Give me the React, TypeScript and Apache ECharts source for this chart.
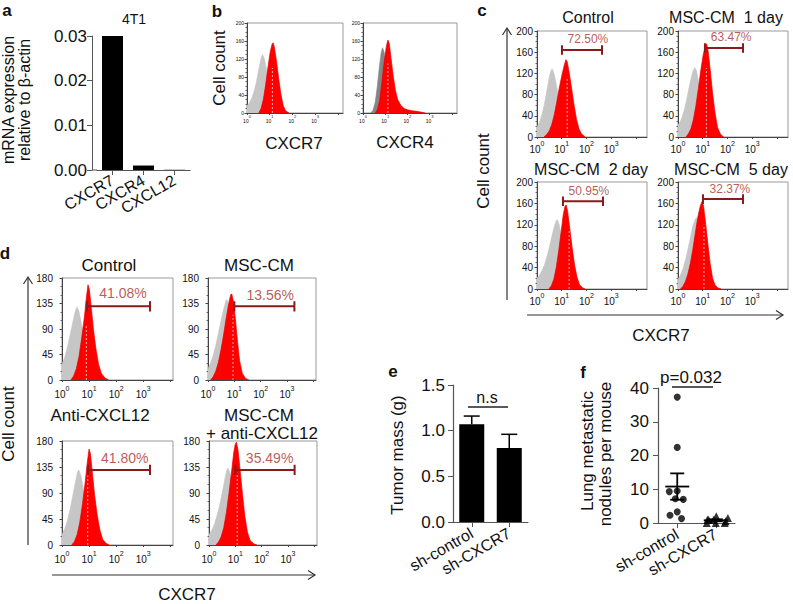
import React, { useEffect, useRef } from 'react';
import * as echarts from 'echarts';

// ---------------- data: panel a ----------------
const aCategories = ['CXCR7', 'CXCR4', 'CXCL12'];
const aValues = [0.03, 0.001, 0.00005];

// ---------------- data: panel b histograms [log10 intensity, cell count] ----------------
const bCXCR7Gray = [[0,16],[0.1,22],[0.2,32],[0.3,46],[0.4,66],[0.5,92],[0.6,118],[0.68,130],[0.75,124],[0.85,100],[0.95,70],[1.05,42],[1.15,22],[1.28,8],[1.45,0]];
const bCXCR7Red = [[0.52,0],[0.62,10],[0.72,30],[0.82,62],[0.92,100],[1.02,135],[1.1,152],[1.15,156],[1.2,148],[1.3,115],[1.4,75],[1.5,40],[1.6,16],[1.7,5],[1.85,0]];
const bCXCR4Gray = [[0.35,0],[0.45,6],[0.55,24],[0.65,62],[0.75,108],[0.82,135],[0.88,145],[0.95,135],[1.05,100],[1.15,62],[1.25,32],[1.35,14],[1.5,4],[1.7,0]];
const bCXCR4Red = [[0.55,0],[0.65,8],[0.75,28],[0.85,68],[0.95,112],[1.05,148],[1.12,162],[1.18,155],[1.26,122],[1.36,82],[1.46,50],[1.56,30],[1.7,17],[1.85,10],[2.0,7],[2.2,5],[2.4,4],[2.6,2],[2.8,0]];
const bMedians = [[1.12, 100], [1.12, 110]];

// ---------------- data: panel c ----------------
const cControlGray = [[0,19],[0.1,28],[0.2,42],[0.3,62],[0.4,88],[0.5,114],[0.58,127],[0.63,128],[0.7,118],[0.8,95],[0.9,68],[1.0,44],[1.1,26],[1.2,13],[1.35,4],[1.5,0]];
const cControlRed = [[0.28,0],[0.4,5],[0.5,12],[0.6,24],[0.7,42],[0.8,66],[0.9,92],[1.0,115],[1.1,135],[1.17,146],[1.22,142],[1.3,122],[1.4,92],[1.5,60],[1.6,33],[1.7,15],[1.8,6],[1.95,0]];
const cDay1Gray = [[0,22],[0.1,30],[0.2,42],[0.3,60],[0.4,82],[0.5,105],[0.6,124],[0.68,131],[0.75,125],[0.85,100],[0.95,70],[1.05,42],[1.15,20],[1.3,6],[1.45,0]];
const cDay1Red = [[0.32,0],[0.42,6],[0.52,15],[0.62,32],[0.72,58],[0.82,90],[0.92,125],[1.02,155],[1.1,170],[1.16,176],[1.22,162],[1.3,128],[1.4,82],[1.5,45],[1.6,18],[1.72,5],[1.85,0]];
const cDay2Gray = [[0,20],[0.1,26],[0.2,34],[0.3,45],[0.4,60],[0.5,78],[0.6,98],[0.7,117],[0.78,128],[0.83,129],[0.9,120],[1.0,95],[1.1,62],[1.2,35],[1.3,15],[1.45,4],[1.6,0]];
const cDay2Red = [[0.48,0],[0.58,6],[0.68,18],[0.78,40],[0.88,72],[0.98,108],[1.06,138],[1.13,154],[1.18,157],[1.24,145],[1.32,115],[1.42,78],[1.52,45],[1.62,22],[1.72,8],[1.85,2],[1.95,0]];
const cDay5Gray = [[0,18],[0.1,26],[0.2,38],[0.3,54],[0.4,74],[0.5,96],[0.6,118],[0.7,131],[0.75,133],[0.82,124],[0.92,98],[1.02,65],[1.12,35],[1.22,14],[1.35,4],[1.5,0]];
const cDay5Red = [[0.1,0],[0.2,5],[0.3,14],[0.4,28],[0.5,48],[0.6,74],[0.7,104],[0.8,134],[0.9,155],[0.97,163],[1.03,156],[1.1,130],[1.2,88],[1.3,48],[1.4,20],[1.5,7],[1.62,2],[1.75,0]];
const cMedians = [[1.22, 110], [1.15, 130], [1.3, 110], [1.05, 120]];
const cGates = [[1.01, 2.63, 164], [1.09, 2.63, 168], [1.05, 2.67, 164], [1.01, 2.63, 168]];
const cGateLabels = ['72.50%', '63.47%', '50.95%', '32.37%'];
const cGateLabelPos = [[2.06, 185], [2.15, 189], [2.1, 183], [2.1, 187]];

// ---------------- data: panel d ----------------
const dControlGray = [[0,28],[0.1,40],[0.2,58],[0.3,80],[0.4,102],[0.48,120],[0.55,129],[0.62,122],[0.7,104],[0.8,78],[0.9,52],[1.0,30],[1.1,15],[1.25,5],[1.4,0]];
const dControlRed = [[0.33,0],[0.43,7],[0.53,20],[0.63,42],[0.73,75],[0.83,112],[0.9,145],[0.96,168],[1.01,160],[1.08,128],[1.16,90],[1.25,56],[1.35,28],[1.45,12],[1.58,4],[1.72,0]];
const dMscGray = [[0,20],[0.1,30],[0.2,44],[0.3,62],[0.4,84],[0.5,106],[0.6,126],[0.68,140],[0.72,142],[0.8,130],[0.9,100],[1.0,65],[1.1,34],[1.2,14],[1.35,4],[1.5,0]];
const dMscRed = [[0.1,0],[0.2,6],[0.3,16],[0.4,32],[0.5,55],[0.6,82],[0.7,112],[0.8,138],[0.86,150],[0.9,152],[0.96,140],[1.04,108],[1.12,68],[1.2,34],[1.3,12],[1.42,3],[1.55,0]];
const dAntiGray = [[0,18],[0.1,28],[0.2,42],[0.3,62],[0.4,86],[0.5,110],[0.57,126],[0.62,130],[0.7,120],[0.8,95],[0.9,66],[1.0,40],[1.1,20],[1.22,7],[1.38,0]];
const dAntiRed = [[0.36,0],[0.46,6],[0.56,18],[0.66,40],[0.76,72],[0.86,110],[0.94,145],[1.0,166],[1.05,158],[1.12,126],[1.2,88],[1.3,52],[1.4,26],[1.5,10],[1.62,3],[1.75,0]];
const dMscAntiGray = [[0,18],[0.1,25],[0.2,35],[0.3,50],[0.4,68],[0.5,90],[0.6,114],[0.68,130],[0.73,133],[0.8,124],[0.9,96],[1.0,62],[1.1,32],[1.2,12],[1.33,3],[1.45,0]];
const dMscAntiRed = [[0.26,0],[0.36,5],[0.46,14],[0.56,30],[0.66,56],[0.76,90],[0.86,128],[0.94,160],[1.0,175],[1.04,178],[1.1,165],[1.18,130],[1.27,88],[1.36,50],[1.46,22],[1.56,8],[1.7,2],[1.82,0]];
const dMedians = [[0.9, 95], [0.95, 115], [0.95, 120], [1.07, 125]];
const dGates = [[0.92, 3.25, 130], [1.0, 3.28, 130], [0.96, 3.25, 130], [1.0, 3.25, 130]];
const dGateLabels = ['41.08%', '13.56%', '41.80%', '35.49%'];
const dGateLabelPos = [[2.25, 153], [2.36, 150], [2.32, 150], [2.3, 150]];

// ---------------- data: panel e ----------------
const eCategories = ['sh-control', 'sh-CXCR7'];
const eMeans = [1.07, 0.81];
const eSem = [0.09, 0.15];

// ---------------- data: panel f ----------------
const fCategories = ['sh-control', 'sh-CXCR7'];
const fControl = [37.3, 22.4, 9.5, 9.3, 7.2, 7.0, 3.3, 2.3, 1.3];
const fCXCR7 = [0, 0, 0, 0.5, 1, 1, 1, 1.5, 2];
const fMeans = [10.8, 0.8];
const fSem = [3.9, 0.3];

// ---------------- styling ----------------
const FONT = "'Liberation Sans', Arial, Helvetica, sans-serif";
const RED = '#ff0000';
const GRAY = '#c6c6c6';
const DARKGRAY = '#858585';
const GATE = '#8b1a1a';
const GATE_TEXT = '#a8312e';
const INK = '#111';
const CAP = 9;

const gridBoxes = [
  { left: 97, top: 36, width: 93, height: 134, box: false },
  { left: 247, top: 23, width: 96, height: 90, box: true },
  { left: 363, top: 23, width: 94, height: 90, box: true },
  { left: 537, top: 31, width: 110, height: 106, box: true },
  { left: 678, top: 31, width: 110, height: 106, box: true },
  { left: 537, top: 182, width: 110, height: 107, box: true },
  { left: 678, top: 182, width: 110, height: 107, box: true },
  { left: 62, top: 278, width: 111, height: 102, box: true },
  { left: 208, top: 278, width: 108, height: 102, box: true },
  { left: 62, top: 441, width: 111, height: 104, box: true },
  { left: 209, top: 441, width: 108, height: 104, box: true },
  { left: 453, top: 385, width: 75, height: 137, box: false },
  { left: 658, top: 388, width: 77, height: 135, box: false },
];

function logX(gridIndex: number, max: number, fs: number, margin: number) {
  return {
    type: 'value', gridIndex, min: 0, max, interval: 1,
    axisLine: { show: true, lineStyle: { color: '#444', width: 1 } },
    axisTick: { show: true, length: 2, lineStyle: { color: '#444' } },
    splitLine: { show: false },
    axisLabel: {
      show: true, margin, showMaxLabel: false, color: INK,
      formatter: (v: number) => (v <= 3.001 && Math.abs(v - Math.round(v)) < 1e-6) ? `{b|10}{s|${Math.round(v)}}` : '',
      rich: {
        b: { fontSize: fs, fontFamily: FONT, color: INK, lineHeight: fs + 4, verticalAlign: 'bottom' },
        s: { fontSize: Math.max(4, Math.round(fs * 0.68)), fontFamily: FONT, color: INK, lineHeight: Math.round(fs * 0.75), verticalAlign: 'top' },
      },
    },
  };
}

function histY(gridIndex: number, max: number, interval: number, fs: number, margin: number, minorSplit: number) {
  return {
    type: 'value', gridIndex, min: 0, max, interval,
    axisLine: { show: true, lineStyle: { color: '#444', width: 1 } },
    axisTick: { show: true, length: 2.5, lineStyle: { color: '#444' } },
    minorTick: { show: true, splitNumber: minorSplit, length: 1.5, lineStyle: { color: '#666' } },
    splitLine: { show: false },
    minorSplitLine: { show: false },
    axisLabel: { fontSize: fs, color: INK, fontFamily: FONT, margin },
  };
}

const histPlots: any[] = [
  { grid: 1, gray: bCXCR7Gray, red: bCXCR7Red, grayColor: GRAY, median: bMedians[0] },
  { grid: 2, gray: bCXCR4Gray, red: bCXCR4Red, grayColor: DARKGRAY, median: bMedians[1] },
  { grid: 3, gray: cControlGray, red: cControlRed, grayColor: GRAY, median: cMedians[0], gate: cGates[0], label: cGateLabels[0], labelPos: cGateLabelPos[0], font: 12 },
  { grid: 4, gray: cDay1Gray, red: cDay1Red, grayColor: GRAY, median: cMedians[1], gate: cGates[1], label: cGateLabels[1], labelPos: cGateLabelPos[1], font: 12 },
  { grid: 5, gray: cDay2Gray, red: cDay2Red, grayColor: GRAY, median: cMedians[2], gate: cGates[2], label: cGateLabels[2], labelPos: cGateLabelPos[2], font: 12 },
  { grid: 6, gray: cDay5Gray, red: cDay5Red, grayColor: GRAY, median: cMedians[3], gate: cGates[3], label: cGateLabels[3], labelPos: cGateLabelPos[3], font: 12 },
  { grid: 7, gray: dControlGray, red: dControlRed, grayColor: GRAY, median: dMedians[0], gate: dGates[0], label: dGateLabels[0], labelPos: dGateLabelPos[0], font: 14 },
  { grid: 8, gray: dMscGray, red: dMscRed, grayColor: GRAY, median: dMedians[1], gate: dGates[1], label: dGateLabels[1], labelPos: dGateLabelPos[1], font: 14 },
  { grid: 9, gray: dAntiGray, red: dAntiRed, grayColor: GRAY, median: dMedians[2], gate: dGates[2], label: dGateLabels[2], labelPos: dGateLabelPos[2], font: 14 },
  { grid: 10, gray: dMscAntiGray, red: dMscAntiRed, grayColor: GRAY, median: dMedians[3], gate: dGates[3], label: dGateLabels[3], labelPos: dGateLabelPos[3], font: 14 },
];

function histSeries(p: any) {
  const s: any[] = [
    {
      type: 'line', xAxisIndex: p.grid, yAxisIndex: p.grid, data: p.gray, symbol: 'none', silent: true,
      lineStyle: { color: p.grayColor, width: 0.6 }, areaStyle: { color: p.grayColor, opacity: 1 }, z: 2,
    },
    {
      type: 'line', xAxisIndex: p.grid, yAxisIndex: p.grid, data: p.red, symbol: 'none', silent: true,
      lineStyle: { color: '#e60000', width: 0.7 }, areaStyle: { color: RED, opacity: 1 }, z: 3,
    },
    {
      type: 'line', xAxisIndex: p.grid, yAxisIndex: p.grid, data: [[p.median[0], 0], [p.median[0], p.median[1]]],
      symbol: 'none', silent: true, lineStyle: { color: '#ffffff', width: 0.8, type: [2, 2], opacity: 0.85 }, z: 4,
    },
  ];
  if (p.gate) {
    const [lo, hi, y] = p.gate;
    s.push({
      type: 'line', xAxisIndex: p.grid, yAxisIndex: p.grid, symbol: 'none', silent: true, z: 6,
      data: [[lo, y + CAP], [lo, y - CAP], [lo, y], [hi, y], [hi, y + CAP], [hi, y - CAP]],
      lineStyle: { color: GATE, width: 2 },
    });
    s.push({
      type: 'scatter', xAxisIndex: p.grid, yAxisIndex: p.grid, data: [p.labelPos], symbolSize: 1, silent: true, z: 7,
      itemStyle: { color: 'rgba(0,0,0,0)' },
      label: { show: true, position: 'inside', formatter: p.label, color: GATE_TEXT, fontSize: p.font, fontFamily: FONT },
    });
  }
  return s;
}

function T(text: string, x: number, y: number, fontSize: number, opts: any = {}) {
  return {
    type: 'text', x, y, rotation: opts.rot ? Math.PI / 2 : 0, silent: true, z: 100,
    style: {
      text, fontSize, fontFamily: FONT, fill: opts.color || INK, fontWeight: opts.bold ? 'bold' : 'normal',
      align: 'center', verticalAlign: 'middle',
    },
  };
}
function L(x1: number, y1: number, x2: number, y2: number, w = 1.2, c = '#333') {
  return { type: 'line', silent: true, z: 100, shape: { x1, y1, x2, y2 }, style: { stroke: c, lineWidth: w } };
}
function P(points: number[][], w = 1.2, c = '#333') {
  return { type: 'polyline', silent: true, z: 100, shape: { points }, style: { stroke: c, lineWidth: w, fill: null } };
}

function buildOption() {
  const grid = gridBoxes.map((g) => ({
    left: g.left, top: g.top, width: g.width, height: g.height, containLabel: false, outerBoundsMode: 'none',
    show: g.box, borderColor: '#9a9a9a', borderWidth: 1, backgroundColor: 'transparent',
  }));

  const xAxis: any[] = [];
  const yAxis: any[] = [];

  // a
  xAxis.push({
    type: 'category', gridIndex: 0, data: aCategories,
    axisLine: { show: true, lineStyle: { color: '#555', width: 1 } },
    axisTick: { show: true, alignWithLabel: true, length: 5, lineStyle: { color: '#555' } },
    axisLabel: { interval: 0, rotate: 30, fontSize: 16, margin: 9, color: INK, fontFamily: FONT },
    splitLine: { show: false },
  });
  yAxis.push({
    type: 'value', gridIndex: 0, min: 0, max: 0.03, interval: 0.01, offset: 5,
    axisLine: { show: true, lineStyle: { color: '#555', width: 1 } },
    axisTick: { show: true, length: 5, lineStyle: { color: '#555' } },
    splitLine: { show: false },
    axisLabel: { fontSize: 17, color: INK, fontFamily: FONT, margin: 5, formatter: (v: number) => v.toFixed(2) },
  });
  // b
  xAxis.push(logX(1, 4.23, 5, 1)); yAxis.push(histY(1, 200, 40, 5, 3, 4));
  xAxis.push(logX(2, 4.23, 5, 1)); yAxis.push(histY(2, 200, 40, 5, 3, 4));
  // c
  for (let i = 3; i <= 6; i++) { xAxis.push(logX(i, 4.45, 10, 3)); yAxis.push(histY(i, 200, 40, 10, 4, 4)); }
  // d
  for (let i = 7; i <= 10; i++) { xAxis.push(logX(i, 4.1, 10, 5)); yAxis.push(histY(i, 180, 45, 10, 9, 3)); }
  // e
  xAxis.push({
    type: 'category', gridIndex: 11, data: eCategories,
    axisLine: { show: true, lineStyle: { color: '#555', width: 1.2 } },
    axisTick: { show: true, alignWithLabel: true, length: 5, lineStyle: { color: '#555' } },
    axisLabel: { interval: 0, rotate: 30, fontSize: 16, margin: 10, color: INK, fontFamily: FONT },
    splitLine: { show: false },
  });
  yAxis.push({
    type: 'value', gridIndex: 11, min: 0, max: 1.5, interval: 0.5,
    axisLine: { show: true, lineStyle: { color: '#555', width: 1.2 } },
    axisTick: { show: true, length: 5, lineStyle: { color: '#555' } },
    splitLine: { show: false },
    axisLabel: { fontSize: 17, color: INK, fontFamily: FONT, margin: 8, formatter: (v: number) => v.toFixed(1) },
  });
  // f
  xAxis.push({
    type: 'category', gridIndex: 12, data: fCategories, jitter: 26, jitterOverlap: false, jitterMargin: 1,
    axisLine: { show: true, lineStyle: { color: '#555', width: 1.2 } },
    axisTick: { show: true, alignWithLabel: true, length: 5, lineStyle: { color: '#555' } },
    axisLabel: { interval: 0, rotate: 30, fontSize: 16, margin: 10, color: INK, fontFamily: FONT },
    splitLine: { show: false },
  });
  yAxis.push({
    type: 'value', gridIndex: 12, min: 0, max: 40, interval: 10,
    axisLine: { show: true, lineStyle: { color: '#555', width: 1.2 } },
    axisTick: { show: true, length: 5, lineStyle: { color: '#555' } },
    splitLine: { show: false },
    axisLabel: { fontSize: 17, color: INK, fontFamily: FONT, margin: 9 },
  });

  const series: any[] = [];
  series.push({
    type: 'bar', xAxisIndex: 0, yAxisIndex: 0, data: aValues, barWidth: 21, silent: true,
    itemStyle: { color: '#000' },
  });
  histPlots.forEach((p) => series.push(...histSeries(p)));

  // e
  series.push({
    type: 'bar', xAxisIndex: 11, yAxisIndex: 11, data: eMeans, barWidth: 25, silent: true,
    itemStyle: { color: '#000' },
  });
  series.push({
    type: 'custom', xAxisIndex: 11, yAxisIndex: 11, silent: true, z: 5,
    encode: { x: 0, y: 1 },
    data: eMeans.map((m, i) => [i, m, eSem[i]]),
    renderItem: (params: any, api: any) => {
      const i = api.value(0), m = api.value(1), s = api.value(2);
      const p0 = api.coord([i, m]);
      const p1 = api.coord([i, m + s]);
      return {
        type: 'group', children: [
          { type: 'line', shape: { x1: p0[0], y1: p0[1], x2: p1[0], y2: p1[1] }, style: { stroke: '#000', lineWidth: 1.5 } },
          { type: 'line', shape: { x1: p1[0] - 8, y1: p1[1], x2: p1[0] + 8, y2: p1[1] }, style: { stroke: '#000', lineWidth: 1.5 } },
        ],
      };
    },
  });

  // f
  series.push({
    type: 'scatter', xAxisIndex: 12, yAxisIndex: 12, data: fControl.map((v) => [0, v]), symbol: 'circle', symbolSize: 7,
    itemStyle: { color: '#000' }, silent: true, z: 4,
  });
  series.push({
    type: 'scatter', xAxisIndex: 12, yAxisIndex: 12, data: fCXCR7.map((v) => [1, v]), symbol: 'triangle', symbolSize: 8,
    itemStyle: { color: '#000' }, silent: true, z: 4,
  });
  series.push({
    type: 'custom', xAxisIndex: 12, yAxisIndex: 12, silent: true, z: 5,
    encode: { x: 0, y: 1 },
    data: fMeans.map((m, i) => [i, m, fSem[i]]),
    renderItem: (params: any, api: any) => {
      const i = api.value(0), m = api.value(1), s = api.value(2);
      const pm = api.coord([i, m]);
      const pt = api.coord([i, m + s]);
      const pb = api.coord([i, Math.max(0, m - s)]);
      const st = { stroke: '#000', lineWidth: 1.8 };
      return {
        type: 'group', children: [
          { type: 'line', shape: { x1: pm[0] - 12, y1: pm[1], x2: pm[0] + 12, y2: pm[1] }, style: st },
          { type: 'line', shape: { x1: pt[0], y1: pt[1], x2: pb[0], y2: pb[1] }, style: st },
          { type: 'line', shape: { x1: pt[0] - 7, y1: pt[1], x2: pt[0] + 7, y2: pt[1] }, style: st },
          { type: 'line', shape: { x1: pb[0] - 7, y1: pb[1], x2: pb[0] + 7, y2: pb[1] }, style: st },
        ],
      };
    },
  });

  const graphic: any[] = [
    // panel letters
    T('a', 7, 10, 17, { bold: true }),
    T('b', 217, 11, 17, { bold: true }),
    T('c', 482, 10, 17, { bold: true }),
    T('d', 5, 253, 17, { bold: true }),
    T('e', 393, 371, 17, { bold: true }),
    T('f', 583, 372, 17, { bold: true }),
    // a
    T('mRNA expression', 8, 100, 16, { rot: true }),
    T('relative to β-actin', 24, 100, 16, { rot: true }),
    T('4T1', 134, 19, 14),
    L(92, 170, 97, 170, 1, '#555'),
    // b
    T('Cell count', 219, 68, 17, { rot: true }),
    T('CXCR7', 294, 143, 17),
    T('CXCR4', 405, 142, 17),
    // c
    T('Cell count', 483, 171, 17, { rot: true }),
    T('Control', 588, 17, 16),
    T('MSC-CM  1 day', 726, 17, 16),
    T('MSC-CM  2 day', 591, 169, 16),
    T('MSC-CM  5 day', 731, 169, 16),
    T('CXCR7', 661, 335, 17),
    L(507, 300, 507, 28), P([[502.5, 35], [507, 28], [511.5, 35]]),
    L(527, 315, 783, 315), P([[776, 310.5], [783, 315], [776, 319.5]]),
    // d
    T('Cell count', 8, 424, 17, { rot: true }),
    T('Control', 109, 265, 17),
    T('MSC-CM', 259, 265, 17),
    T('Anti-CXCL12', 100, 415, 17),
    T('MSC-CM', 259, 415, 17),
    T('+ anti-CXCL12', 262, 433, 17),
    T('CXCR7', 187, 594, 17),
    L(28, 545, 28, 277), P([[23.5, 284], [28, 277], [32.5, 284]]),
    L(52, 575, 315, 575), P([[308, 570.5], [315, 575], [308, 579.5]]),
    // e
    T('Tumor mass (g)', 397, 455, 17, { rot: true }),
    T('n.s', 487, 397, 16),
    L(468, 407, 508, 407, 1.3, '#222'),
    // f
    T('Lung metastatic', 587, 451, 17, { rot: true }),
    T('nodules per mouse', 605, 454, 17, { rot: true }),
    T('p=0.032', 691, 377, 17),
    L(672, 387, 713, 387, 1.3, '#222'),
  ];

  return {
    animation: false,
    backgroundColor: '#ffffff',
    textStyle: { fontFamily: FONT },
    grid, xAxis, yAxis, series, graphic,
  };
}

export default function App() {
  const ref = useRef<HTMLDivElement>(null);
  useEffect(() => {
    if (!ref.current) return;
    const chart = echarts.init(ref.current, null, { renderer: 'svg' });
    chart.setOption(buildOption() as any);
    return () => chart.dispose();
  }, []);
  return (
    <div
      ref={ref}
      style={{ position: 'fixed', left: 0, top: 0, width: 793, height: 604, background: '#fff' }}
    />
  );
}
